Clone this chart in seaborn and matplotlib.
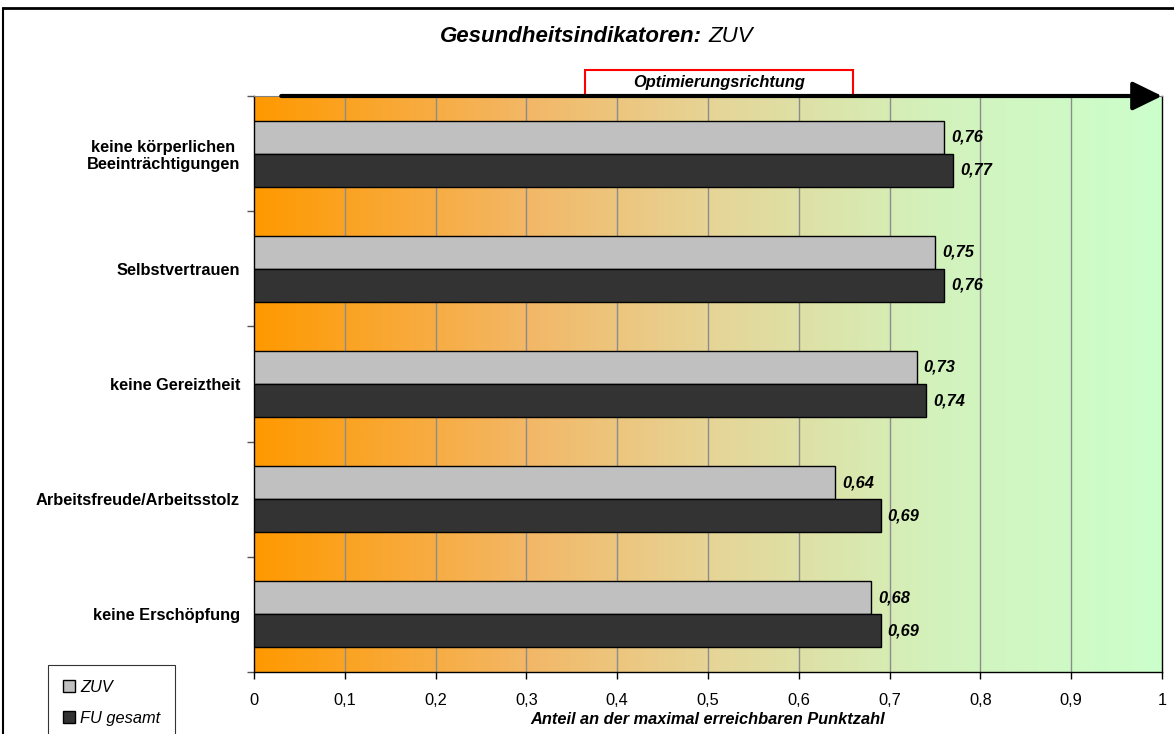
import numpy as np
import pandas as pd
import matplotlib
matplotlib.use("Agg")
import matplotlib.pyplot as plt
from matplotlib.colors import LinearSegmentedColormap
from matplotlib.lines import Line2D
from matplotlib.patches import Rectangle
import matplotlib.transforms as mtransforms
import seaborn as sns

# DATA
categories = ["keine körperlichen \nBeeinträchtigungen", "Selbstvertrauen",
              "keine Gereiztheit", "Arbeitsfreude/Arbeitsstolz", "keine Erschöpfung"]
series_names = ["ZUV", "FU gesamt"]
zuv = [0.76, 0.75, 0.73, 0.64, 0.68]
fu_gesamt = [0.77, 0.76, 0.74, 0.69, 0.69]
x_ticks = [0, 0.1, 0.2, 0.3, 0.4, 0.5, 0.6, 0.7, 0.8, 0.9, 1]

df = pd.DataFrame({
    "Kategorie": categories * 2,
    "Serie": [series_names[0]] * len(categories) + [series_names[1]] * len(categories),
    "Wert": zuv + fu_gesamt,
})

sns.set_style("white")
plt.rcParams["font.family"] = ["Liberation Sans", "DejaVu Sans"]
plt.rcParams.update({"text.color": "black", "axes.labelcolor": "black",
                     "xtick.color": "black", "ytick.color": "black"})
FS = 11.8

fig = plt.figure(figsize=(11.74, 7.34), dpi=100)
ax = fig.add_axes([254 / 1174, 1 - 672 / 734, 908 / 1174, 576 / 734])

# gradient background
cmap = LinearSegmentedColormap.from_list(
    "opt", [(0.0, "#FF9900"), (0.3, "#F3B766"), (0.5, "#E6D496"), (0.75, "#D3F2BC"), (1.0, "#CCFFCC")])
grad = np.linspace(0, 1, 512).reshape(1, -1)
ax.imshow(grad, cmap=cmap, aspect="auto", extent=[0, 1, len(categories) - 0.5, -0.5], zorder=0)

sns.barplot(data=df, x="Wert", y="Kategorie", hue="Serie", orient="h",
            palette=["#C0C0C0", "#333333"], width=0.573, edgecolor="black",
            linewidth=1, saturation=1, ax=ax, zorder=3)

for xv in x_ticks[1:-1]:
    ax.axvline(xv, color="#8C8C8C", lw=1, zorder=1)

ax.set_xlim(0, 1)
ax.set_ylim(len(categories) - 0.5, -0.5)

# value labels
for cont, vals in zip(ax.containers, [zuv, fu_gesamt]):
    ax.bar_label(cont, labels=[f"{v:.2f}".replace(".", ",") for v in vals], padding=5,
                 fontsize=FS, fontweight="bold", fontstyle="italic", color="black")

# axes formatting
ax.set_xticks(x_ticks)
ax.set_xticklabels([("%g" % t).replace(".", ",") for t in x_ticks], fontsize=FS)
ax.tick_params(axis="x", length=5, width=1, color="black", direction="out", bottom=True, pad=10)
ax.tick_params(axis="y", which="major", length=0, pad=10)
ax.set_yticks(np.arange(-0.5, len(categories)), minor=True)
ax.tick_params(axis="y", which="minor", length=5, width=1, color="#555555", left=True)
for lab in ax.get_yticklabels():
    lab.set_fontweight("bold")
    lab.set_fontsize(FS)
    lab.set_multialignment("right")
ax.set_ylabel("")
ax.set_xlabel("Anteil an der maximal erreichbaren Punktzahl", fontsize=FS,
              fontweight="bold", fontstyle="italic", labelpad=3)
for side in ["left", "bottom", "right"]:
    ax.spines[side].set_color("black")
    ax.spines[side].set_linewidth(1)
ax.spines["top"].set_color("#808080")

# arrow along the top
ax.annotate("", xy=(1.0, -0.5), xytext=(0.03, -0.5), annotation_clip=False,
            arrowprops=dict(arrowstyle="-|>,head_length=0.45,head_width=0.22",
                            lw=3, color="black", mutation_scale=40, shrinkA=0, shrinkB=0),
            zorder=6)

trans = mtransforms.blended_transform_factory(ax.transData, ax.transAxes)
ax.add_patch(Rectangle((0.3645, 1.0), 0.2952, 26 / 576, transform=trans, fill=True,
                       facecolor="white", edgecolor="#FF0000", lw=1.5, clip_on=False, zorder=5))
ax.text(0.512, 1.0 + 13 / 576, "Optimierungsrichtung", transform=trans, ha="center", va="center",
        fontsize=FS, fontweight="bold", fontstyle="italic", zorder=7)

# title
fig.text(702 / 1174, 1 - 36 / 734, "Gesundheitsindikatoren:", ha="right", va="center",
         fontsize=16, fontweight="bold", fontstyle="italic")
fig.text(708 / 1174, 1 - 36 / 734, "ZUV", ha="left", va="center",
         fontsize=16, fontstyle="italic")

# legend
handles, labels = ax.get_legend_handles_labels()
ax.get_legend().remove()
leg = fig.legend(handles, labels, loc="upper left", bbox_to_anchor=(48 / 1174, 1 - 665 / 734),
                 frameon=True, fancybox=False, edgecolor="black", fontsize=FS,
                 handlelength=0.75, handleheight=0.75, handletextpad=0.3,
                 labelspacing=1.0, borderpad=0.9, borderaxespad=0)
leg.get_frame().set_linewidth(0.8)
for t in leg.get_texts():
    t.set_fontstyle("italic")

# outer frame
fig.add_artist(Line2D([3 / 1174, 3 / 1174], [0, 1 - 8 / 734], transform=fig.transFigure,
                      color="black", lw=1.5))
fig.add_artist(Line2D([3 / 1174, 1], [1 - 8 / 734, 1 - 8 / 734], transform=fig.transFigure,
                      color="black", lw=2))

fig.savefig("out.png", dpi=100)
